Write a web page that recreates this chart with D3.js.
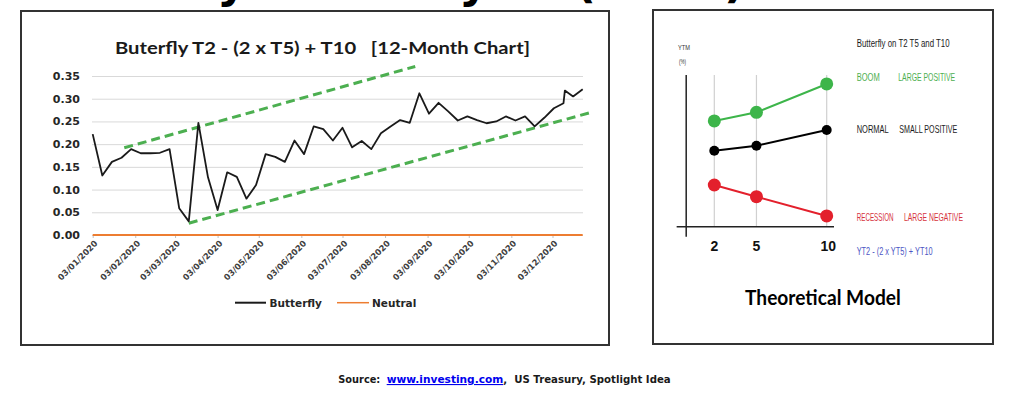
<!DOCTYPE html>
<html><head><meta charset="utf-8">
<script src="https://cdn.jsdelivr.net/npm/d3@7"></script>
<style>body{margin:0;background:#fff}svg{display:block}text{white-space:pre}</style>
</head><body><svg id="c" width="1024" height="395"></svg>
<script>
// ---------- data: left chart ----------
const dates = ["2020-01-03","2020-01-10","2020-01-17","2020-01-24","2020-01-31",
  "2020-02-07","2020-02-14","2020-02-21","2020-02-28",
  "2020-03-06","2020-03-13","2020-03-20","2020-03-27",
  "2020-04-03","2020-04-10","2020-04-17","2020-04-24",
  "2020-05-01","2020-05-08","2020-05-15","2020-05-22","2020-05-29",
  "2020-06-05","2020-06-12","2020-06-19","2020-06-26",
  "2020-07-03","2020-07-10","2020-07-17","2020-07-24","2020-07-31",
  "2020-08-07","2020-08-14","2020-08-21","2020-08-28",
  "2020-09-04","2020-09-11","2020-09-18","2020-09-25",
  "2020-10-02","2020-10-09","2020-10-16","2020-10-23","2020-10-30",
  "2020-11-06","2020-11-13","2020-11-20","2020-11-27",
  "2020-12-04","2020-12-11","2020-12-12","2020-12-18","2020-12-25"];
const butterfly = [0.222,0.131,0.161,0.170,0.189,
  0.180,0.180,0.181,0.189,
  0.059,0.030,0.247,0.127,
  0.055,0.138,0.128,0.080,
  0.110,0.178,0.172,0.161,0.208,
  0.178,0.239,0.233,0.208,
  0.236,0.193,0.207,0.189,0.224,
  0.239,0.253,0.247,0.312,
  0.267,0.291,0.272,0.252,
  0.261,0.253,0.246,0.250,0.261,
  0.252,0.261,0.239,0.258,
  0.279,0.290,0.318,0.305,0.321];
const neutralLevel = 0;
const yTicks = [0,0.05,0.10,0.15,0.20,0.25,0.30,0.35];
const monthTicks = ["2020-01-03","2020-02-03","2020-03-03","2020-04-03","2020-05-03","2020-06-03",
  "2020-07-03","2020-08-03","2020-09-03","2020-10-03","2020-11-03","2020-12-03"];
const trendUpper = [["2020-01-26",0.192],["2020-08-25",0.371]];
const trendLower = [["2020-03-13",0.026],["2020-12-30",0.269]];
const seriesNames = ["Butterfly","Neutral"];

// ---------- data: theoretical model ----------
const maturities = [2,5,10];
const boom = [0.697,0.754,0.941];
const normal = [0.501,0.534,0.637];
const recession = [0.275,0.198,0.071];

const svg = d3.select("#c");
const parse = d3.utcParse("%Y-%m-%d");
const fmt = d3.utcFormat("%d/%m/%Y");

// cut-off page heading (only its descenders show at the top edge)
const hd = svg.append("g").attr("font-family","DejaVu Sans").attr("font-weight","bold")
  .attr("font-size",46).attr("fill","#000");
hd.append("text").attr("x",247).attr("y",-3).attr("text-anchor","end").text("Butterfly");
hd.append("text").attr("x",489).attr("y",-3).attr("text-anchor","end").text("Study");
hd.append("text").attr("x",575).attr("y",-3).attr("textLength",170).attr("lengthAdjust","spacingAndGlyphs").text("(2020)");

// boxes
svg.append("rect").attr("x",21).attr("y",11).attr("width",588).attr("height",334)
  .attr("fill","none").attr("stroke","#333").attr("stroke-width",2);
svg.append("rect").attr("x",653).attr("y",10).attr("width",340).attr("height",334)
  .attr("fill","none").attr("stroke","#333").attr("stroke-width",2);

// ---------- left chart ----------
const x = d3.scaleUtc().domain([parse("2020-01-03"), parse("2020-12-25")]).range([92.7, 582.7]);
const y = d3.scaleLinear().domain([0,0.35]).range([235,76]);
const L = svg.append("g");

L.append("text").attr("x",115).attr("y",54).attr("font-family","Lato").attr("font-weight","bold")
  .attr("font-size",17).attr("fill","#1a1a1a").attr("textLength",415).attr("lengthAdjust","spacingAndGlyphs")
  .text("Buterfly T2 - (2 x T5) + T10   [12-Month Chart]");

// gridlines + y labels
const yAxis = d3.axisLeft(y).tickValues(yTicks).tickFormat(d3.format(".2f")).tickSize(-(583-92)).tickPadding(12);
const ga = L.append("g").attr("transform","translate(92,0)").call(yAxis);
ga.select(".domain").remove();
ga.selectAll(".tick line").attr("stroke","#d9d9d9").attr("stroke-width",1);
ga.selectAll(".tick text").attr("font-family","DejaVu Sans").attr("font-weight","bold")
  .attr("font-size",11).attr("fill","#262626");

// x axis
const xAxis = d3.axisBottom(x).tickValues(monthTicks.map(parse)).tickFormat(fmt).tickSize(3).tickSizeOuter(0);
const gx = L.append("g").attr("transform","translate(0,235)").call(xAxis);
gx.select(".domain").remove();
gx.selectAll(".tick line").attr("stroke","#bfbfbf");
gx.selectAll(".tick text").attr("font-family","DejaVu Sans").attr("font-weight","bold")
  .attr("font-size",8.3).attr("fill","#404040")
  .attr("text-anchor","end").attr("dy",null).attr("y",0)
  .attr("transform","translate(5,9) rotate(-45)");

// neutral line
L.append("path").datum(x.domain()).attr("fill","none").attr("stroke","#ED7D31").attr("stroke-width",2)
  .attr("d", d3.line().x(d=>x(d)).y(()=>y(neutralLevel)));

// trend lines
[trendUpper, trendLower].forEach(t => {
  L.append("path").datum(t).attr("fill","none").attr("stroke","#4CAF50").attr("stroke-width",3)
    .attr("stroke-dasharray","9,5")
    .attr("d", d3.line().x(d=>x(parse(d[0]))).y(d=>y(d[1])));
});

// butterfly line
L.append("path").datum(dates.map((d,i)=>[parse(d),butterfly[i]])).attr("fill","none")
  .attr("stroke","#1a1a1a").attr("stroke-width",1.8).attr("stroke-linejoin","round")
  .attr("d", d3.line().x(d=>x(d[0])).y(d=>y(d[1])));

// legend
const lg = L.append("g").attr("font-family","DejaVu Sans").attr("font-weight","bold").attr("font-size",10.5).attr("fill","#262626");
lg.append("line").attr("x1",235).attr("x2",266).attr("y1",302.7).attr("y2",302.7).attr("stroke","#1a1a1a").attr("stroke-width",2);
lg.append("text").attr("x",269.5).attr("y",306.5).text(seriesNames[0]);
lg.append("line").attr("x1",337).attr("x2",369).attr("y1",302.7).attr("y2",302.7).attr("stroke","#ED7D31").attr("stroke-width",1.5);
lg.append("text").attr("x",372).attr("y",306.5).text(seriesNames[1]);

// ---------- right panel ----------
const xm = d3.scaleLinear().domain([2,10]).range([714.3,826.7]);
const ym = d3.scaleLinear().domain([0,1]).range([226.7,75]);
const R = svg.append("g");
const cf = "'Liberation Sans Narrow', 'Liberation Sans', Lato, sans-serif";

// gridlines
R.selectAll("line.g").data(maturities).join("line").attr("class","g")
  .attr("x1",d=>xm(d)).attr("x2",d=>xm(d)).attr("y1",ym(1)).attr("y2",ym(0))
  .attr("stroke","#d0d0d0").attr("stroke-width",1.2);
// axes
R.append("line").attr("x1",xm(0)).attr("x2",xm(0)).attr("y1",ym(1)).attr("y2",ym(-0.066))
  .attr("stroke","#222").attr("stroke-width",1.5);
R.append("line").attr("x1",xm(-0.68)).attr("x2",xm(10.52)).attr("y1",ym(0)).attr("y2",ym(0))
  .attr("stroke","#222").attr("stroke-width",1.5);

const curves = [
  {v:boom, c:"#3DB54A", r:6.5},
  {v:normal, c:"#000000", r:5},
  {v:recession, c:"#E3202C", r:6.5}
];
curves.forEach(cv => {
  R.append("path").datum(maturities.map((m,i)=>[m,cv.v[i]])).attr("fill","none")
    .attr("stroke",cv.c).attr("stroke-width",2)
    .attr("d", d3.line().x(d=>xm(d[0])).y(d=>ym(d[1])));
  R.selectAll(null).data(maturities.map((m,i)=>[m,cv.v[i]])).join("circle")
    .attr("cx",d=>xm(d[0])).attr("cy",d=>ym(d[1])).attr("r",cv.r).attr("fill",cv.c);
});

R.selectAll("text.m").data(maturities).join("text").attr("class","m")
  .attr("x",d=>xm(d)+(d===10?1.5:0)).attr("y",251).attr("text-anchor","middle")
  .attr("font-family",cf).attr("font-weight","bold").attr("font-size",14).attr("fill","#111")
  .text(d=>d);

// text squeezed horizontally to a target width (scale transform, so its box is true)
function t(txt,xx,yy,sz,len,fill,w){
  const e = R.append("text").attr("x",0).attr("y",0).attr("font-family",cf)
    .attr("font-size",sz).attr("fill",fill).attr("font-weight",w||"normal").text(txt);
  const nat = e.node().getComputedTextLength();
  const k = len && nat ? len/nat : 1;
  e.attr("transform",`translate(${xx},${yy}) scale(${k},1)`);
  return e;
}
t("YTM",678,50,7,12,"#333");
t("(%)",679,64,7,7,"#333");
t("Butterfly on T2 T5 and T10",856.7,46.5,11,93,"#1a1a1a");
t("BOOM",856.7,81,11,23,"#4CAF50");
t("LARGE POSITIVE",898.3,81,11,57,"#4CAF50");
t("NORMAL",856.7,133,11,32,"#1a1a1a");
t("SMALL POSITIVE",899.3,133,11,58,"#1a1a1a");
t("RECESSION",856.7,220.5,11,37,"#D6333E");
t("LARGE NEGATIVE",904,220.5,11,59,"#D6333E");
t("YT2 - (2 x YT5) + YT10",856.7,255,11,76,"#4B55C4");
t("Theoretical Model",745,305,21,163,"#000","bold").attr("font-family","Lato");

// source
const S = svg.append("g").attr("font-family","DejaVu Sans").attr("font-weight","bold").attr("font-size",11);
S.append("text").attr("x",338.3).attr("y",383).attr("fill","#1a1a1a").attr("textLength",42).attr("lengthAdjust","spacingAndGlyphs").text("Source:");
S.append("text").attr("x",386.7).attr("y",383).attr("fill","#0000EE").attr("text-decoration","underline")
  .attr("textLength",116.6).attr("lengthAdjust","spacingAndGlyphs").text("www.investing.com");
S.append("text").attr("x",503.3).attr("y",383).attr("fill","#1a1a1a").attr("textLength",167.4).attr("lengthAdjust","spacingAndGlyphs").text(",  US Treasury, Spotlight Idea");
</script></body></html>
